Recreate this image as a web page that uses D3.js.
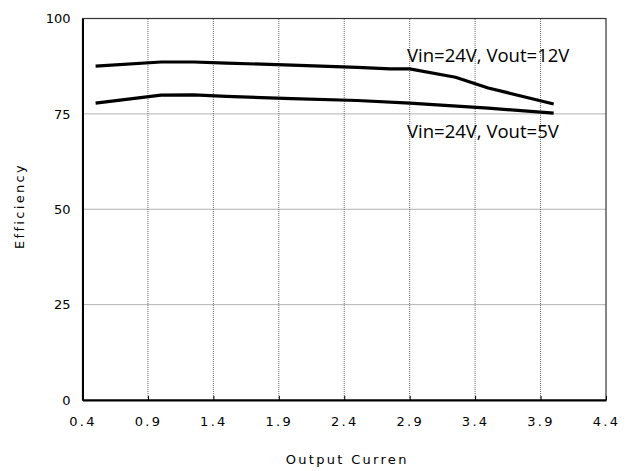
<!DOCTYPE html>
<html>
<head>
<meta charset="utf-8">
<script src="https://cdn.jsdelivr.net/npm/d3@7"></script>
<style>
  body { margin: 0; background: #fff; }
  svg { display: block; }
</style>
</head>
<body>
<svg id="chart" width="631" height="471"></svg>
<script>
// data
const xTicks = [0.4, 0.9, 1.4, 1.9, 2.4, 2.9, 3.4, 3.9, 4.4];
const yTicks = [0, 25, 50, 75, 100];

const current12 = [0.5, 1.0, 1.25, 1.5, 2.0, 2.5, 2.75, 2.9, 3.25, 3.5, 4.0];
const eff12 = [87.5, 88.6, 88.6, 88.3, 87.8, 87.2, 86.8, 86.8, 84.6, 81.8, 77.6];

const current5 = [0.5, 1.0, 1.25, 1.5, 2.0, 2.5, 2.9, 3.5, 4.0];
const eff5 = [77.8, 79.9, 80.0, 79.6, 79.0, 78.5, 77.8, 76.5, 75.2];

const seriesLabels = ["Vin=24V, Vout=12V", "Vin=24V, Vout=5V"];

const svg = d3.select("#chart");
const margin = { top: 18.5, right: 25, bottom: 71, left: 82.5 };
const width = 631, height = 471;

const x = d3.scaleLinear().domain([0.4, 4.4]).range([margin.left, width - margin.right]);
const y = d3.scaleLinear().domain([0, 100]).range([height - margin.bottom, margin.top]);

// grid
const grid = svg.append("g").attr("class", "grid");
grid.selectAll("line.v")
    .data(xTicks.slice(1, -1))
    .join("line")
    .attr("x1", d => x(d)).attr("x2", d => x(d))
    .attr("y1", y(0)).attr("y2", y(100))
    .attr("stroke", "#666")
    .attr("stroke-width", 1)
    .attr("stroke-dasharray", "1,1");
grid.selectAll("line.h")
    .data(yTicks.slice(1, -1))
    .join("line")
    .attr("x1", x(0.4)).attr("x2", x(4.4))
    .attr("y1", d => y(d)).attr("y2", d => y(d))
    .attr("stroke", "#666")
    .attr("stroke-width", 1)
    .attr("stroke-dasharray", "1,1");

// frame
svg.append("rect")
    .attr("x", x(0.4)).attr("y", y(100))
    .attr("width", x(4.4) - x(0.4)).attr("height", y(0) - y(100))
    .attr("fill", "none").attr("stroke", "#333").attr("stroke-width", 1.2);

// axes
const xAxis = svg.append("g")
    .attr("transform", "translate(0," + y(0) + ")")
    .call(d3.axisBottom(x).tickValues(xTicks).tickSizeInner(-4).tickSizeOuter(0).tickPadding(17)
        .tickFormat(d3.format(".1f")));
xAxis.select(".domain").attr("stroke", "#000").attr("stroke-width", 2);
xAxis.selectAll("text")
    .attr("font-family", "DejaVu Sans").attr("font-size", 13)
    .attr("letter-spacing", "2.3px").attr("fill", "#000");

const yAxis = svg.append("g")
    .attr("transform", "translate(" + x(0.4) + ",0)")
    .call(d3.axisLeft(y).tickValues(yTicks).tickSizeInner(0).tickSizeOuter(0).tickPadding(12));
yAxis.select(".domain").attr("stroke", "#000").attr("stroke-width", 2);
yAxis.selectAll("text")
    .attr("font-family", "DejaVu Sans").attr("font-size", 13).attr("fill", "#000");

// axis titles
svg.append("text")
    .attr("x", (x(0.4) + x(4.4)) / 2 + 3)
    .attr("y", 464)
    .attr("text-anchor", "middle")
    .attr("font-family", "DejaVu Sans").attr("font-size", 13)
    .attr("letter-spacing", "2.3px")
    .text("Output Curren");

svg.append("text")
    .attr("transform", "translate(24,206) rotate(-90)")
    .attr("text-anchor", "middle")
    .attr("font-family", "DejaVu Sans").attr("font-size", 13)
    .attr("letter-spacing", "2.3px")
    .text("Efficiency");

// lines
const line = d3.line().x(d => x(d[0])).y(d => y(d[1]));
const series = [d3.zip(current12, eff12), d3.zip(current5, eff5)];
svg.selectAll("path.series")
    .data(series)
    .join("path")
    .attr("class", "series")
    .attr("d", line)
    .attr("fill", "none")
    .attr("stroke", "#000")
    .attr("stroke-width", 3.2)
    .attr("stroke-linejoin", "round");

// series labels
svg.append("text")
    .attr("x", x(2.88)).attr("y", y(88.7))
    .attr("font-family", "Open Sans").attr("font-size", 18.5)
    .text(seriesLabels[0]);
svg.append("text")
    .attr("x", x(2.88)).attr("y", y(68.7))
    .attr("font-family", "Open Sans").attr("font-size", 18.5)
    .text(seriesLabels[1]);
</script>
</body>
</html>
